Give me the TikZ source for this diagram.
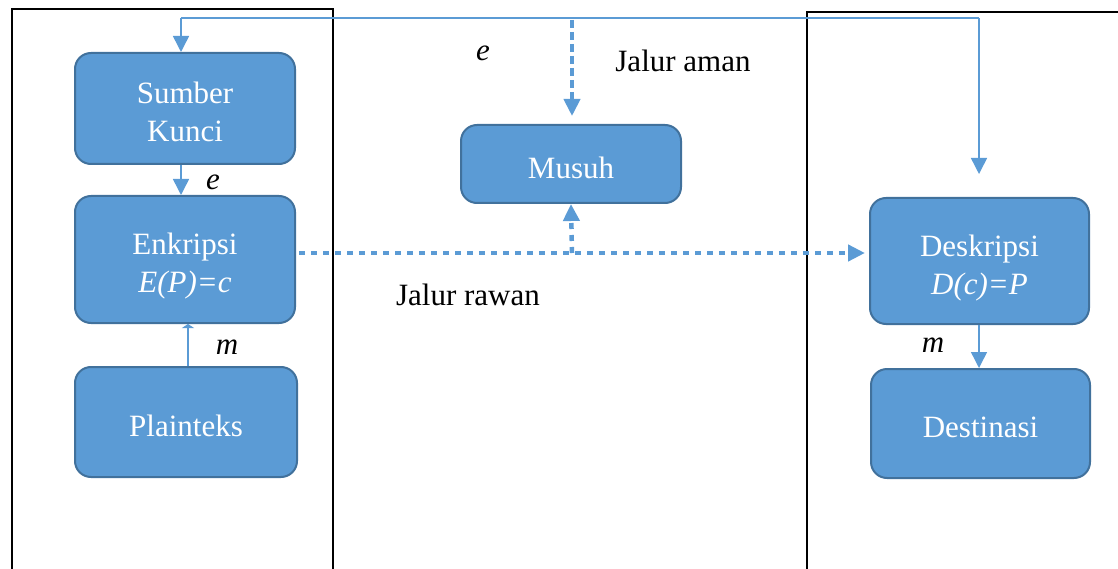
\documentclass[tikz,border=0pt]{standalone}
\usepackage{fontspec}
\setmainfont{Liberation Serif}
\usetikzlibrary{arrows.meta}
\definecolor{boxfill}{HTML}{5B9BD5}
\definecolor{boxline}{HTML}{41719C}
% block caption, set a little below the geometric centre
\newcommand{\blocktext}[1]{\raisebox{-13pt}[0pt][0pt]{\begin{tabular}{@{}c@{}}#1\end{tabular}}}
\tikzset{
  block/.style={draw=boxline, line width=2pt, fill=boxfill, rounded corners=16pt,
    text=white, font=\fontsize{31}{38}\selectfont, inner sep=0pt},
  link/.style={draw=boxfill, line width=1.5pt},
  arr/.style={link, -{Triangle[length=16pt,width=16pt]}},
  bigarr/.style={draw=boxfill, line width=4.5pt, -{Triangle[length=17pt,width=16pt]}},
  dotline/.style={bigarr, dash pattern=on 6pt off 6pt},
  dashline/.style={bigarr, line width=4pt, dash pattern=on 8pt off 4pt},
  frame/.style={draw=black, line width=2.5pt},
  lbl/.style={font=\fontsize{31}{37}\selectfont, inner sep=0pt},
}
\begin{document}
\begin{tikzpicture}[x=1pt,y=-1pt]
\useasboundingbox (0,0) rectangle (1118,569);
\clip (0,0) rectangle (1118,569);

% sender and receiver frames (open at the bottom / right)
\draw[frame] (12,600) -- (12,9) -- (333,9) -- (333,600);
\draw[frame] (807,600) -- (807,12) -- (1130,12);

% blocks
\node[block, minimum width=220pt, minimum height=111pt] (sumber) at (185,108.5) {\blocktext{Sumber\\Kunci}};
\node[block, minimum width=220pt, minimum height=127pt] (enk) at (185,259.5) {\blocktext{Enkripsi\\\textit{E(P)=c}}};
\node[block, minimum width=222pt, minimum height=110pt] (plain) at (186,422) {\blocktext{Plainteks}};
\node[block, minimum width=220pt, minimum height=78pt] (musuh) at (571,164) {\blocktext{Musuh}};
\node[block, minimum width=219pt, minimum height=126pt] (desk) at (979.5,261) {\blocktext{Deskripsi\\\textit{D(c)=P}}};
\node[block, minimum width=219pt, minimum height=109pt] (dest) at (980.5,423.5) {\blocktext{Destinasi}};

% routing points
\coordinate (keyL) at (181,18);
\coordinate (keyR) at (979,18);
\coordinate (keyM) at (572,20);
\coordinate (tap) at (572,253);
\coordinate (plainx) at (188,0);

% secure channel carrying the key
\draw[link] (keyL) -- (keyR);
\draw[arr] (keyL) -- (keyL |- sumber.north);
\draw[arr, shorten >=23pt] (keyR) -- (keyR |- desk.north);
\draw[dashline, shorten >=8pt] (keyM) -- (keyM |- musuh.north);

% key and message inside the frames
\draw[arr] (sumber.south -| keyL) -- (enk.north -| keyL);
\draw[link, -{Triangle[length=4pt,width=12pt]}] (plain.north -| plainx) -- (enk.south -| plainx);
\draw[arr] (desk.south -| keyR) -- (dest.north -| keyR);

% insecure channel and eavesdropper
\draw[dotline, shorten <=3pt, shorten >=4pt] (enk.east |- tap) -- (desk.west |- tap);
\draw[dotline] (tap) -- (musuh.south);

% labels
\node[lbl] (le1) at (213,182) {\textit{e}};
\node[lbl] (le2) at (483,53) {\textit{e}};
\node[lbl] (lm1) at (227,347) {\textit{m}};
\node[lbl] (lm2) at (933,345) {\textit{m}};
\node[lbl] (aman) at (683,61) {Jalur aman};
\node[lbl] (rawan) at (468,295) {Jalur rawan};
\end{tikzpicture}
\end{document}
